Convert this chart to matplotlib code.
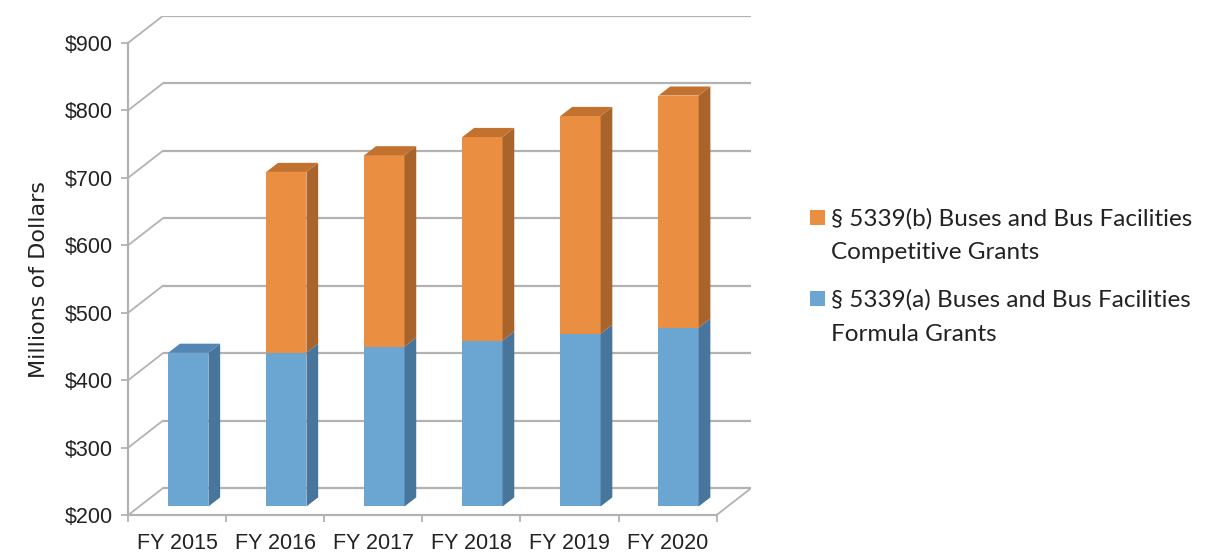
import matplotlib.pyplot as plt
from matplotlib.patches import Polygon, Rectangle

years = ['FY 2015', 'FY 2016', 'FY 2017', 'FY 2018', 'FY 2019', 'FY 2020']
formula = [427.8, 427.8, 436.9, 445.9, 455.9, 465.0]       # 5339(a), millions
competitive = [0.0, 268.0, 283.6, 301.7, 322.8, 344.0]     # 5339(b), millions
yticks = [200, 300, 400, 500, 600, 700, 800, 900]
ytick_labels = ['$%d' % v for v in yticks]
legend_lines = [['§ 5339(b) Buses and Bus Facilities', 'Competitive Grants'],
                ['§ 5339(a) Buses and Bus Facilities', 'Formula Grants']]

# fake 3d: one unit of depth shifts by KX categories and KY dollars
KX, KY = 0.351, 39.6
Z0, ZD = 0.32, 0.34     # bar front depth, bar thickness
BW = 0.41

blue = ('#6ba5d2', '#48759b', '#5386b3')
orange = ('#ea8e42', '#a8642b', '#c2712f')
grid_c = '#b2b2b2'
text_c = '#222222'

W, H = 1225, 552
fig = plt.figure(figsize=(W / 100, H / 100), dpi=100)

def px(x, y):
    return x / W, 1 - y / H

left, top = px(128.3, 16)
right, bottom = px(751, 515)
ax = fig.add_axes([left, bottom, right - left, top - bottom])
n = len(years)
ymin, ymax = yticks[0], yticks[-1]
ax.set_xlim(-0.5, n - 0.5 + KX)
ax.set_ylim(ymin, ymax + KY)
ax.patch.set_visible(False)

# back wall gridlines and the diagonals on the left wall
for v in yticks:
    ax.plot([-0.5 + KX, n - 0.5 + KX], [v + KY, v + KY], color=grid_c, lw=1.6, zorder=1, solid_capstyle='butt')
    ax.plot([-0.5, -0.5 + KX], [v, v + KY], color=grid_c, lw=1.3, zorder=1)
# right edge of the floor
ax.plot([n - 0.5, n - 0.5 + KX], [ymin, ymin + KY], color=grid_c, lw=1.3, zorder=1)

for s in ['top', 'right']:
    ax.spines[s].set_visible(False)
for s in ['left', 'bottom']:
    ax.spines[s].set_color(grid_c)
    ax.spines[s].set_linewidth(1.6)
ax.spines['left'].set_bounds(ymin, ymax)
ax.spines['bottom'].set_bounds(-0.5, n - 0.5)

ax.set_yticks(yticks)
ax.set_yticklabels(ytick_labels)
ax.set_xticks([i - 0.5 for i in range(n + 1)])
ax.set_xticklabels([])
ax.set_xticks(range(n), minor=True)
ax.set_xticklabels(years, minor=True)
ax.tick_params(axis='y', length=5, width=1.3, color=grid_c, pad=6, labelsize=15.5, labelcolor=text_c)
ax.tick_params(axis='x', which='major', length=5, width=1.3, color=grid_c)
ax.tick_params(axis='x', which='minor', length=0, pad=13, labelsize=15.5, labelcolor=text_c)
for lab in ax.get_yticklabels() + ax.get_xticklabels(minor=True):
    lab.set_family(['Liberation Sans', 'DejaVu Sans'])

# stacked bars with side and top faces
for i in range(n):
    total = formula[i] + competitive[i]
    segs = [(ymin, formula[i], blue), (formula[i], total, orange)]
    x0 = i - BW / 2 + KX * Z0
    xr = x0 + BW
    for lo, hi, cols in segs:
        if hi <= lo:
            continue
        ax.bar(x0, hi - lo, width=BW, bottom=lo + KY * Z0, align='edge',
               color=cols[0], linewidth=0, zorder=3)
        side = [(xr, lo + KY * Z0), (xr + KX * ZD, lo + KY * (Z0 + ZD)),
                (xr + KX * ZD, hi + KY * (Z0 + ZD)), (xr, hi + KY * Z0)]
        ax.add_patch(Polygon(side, closed=True, facecolor=cols[1], linewidth=0, zorder=3))
        if hi == total:
            lid = [(x0, hi + KY * Z0), (xr, hi + KY * Z0),
                   (xr + KX * ZD, hi + KY * (Z0 + ZD)), (x0 + KX * ZD, hi + KY * (Z0 + ZD))]
            ax.add_patch(Polygon(lid, closed=True, facecolor=cols[2], linewidth=0, zorder=3))

# y label
fig.text(*px(39, 279), 'Millions of Dollars', rotation=90, ha='center', va='center',
         fontsize=16, color=text_c, family=['DejaVu Sans'])

# legend, drawn by hand so the swatch sits on the first line
leg_font = ['Lato', 'DejaVu Sans']
baselines = [(226, 259), (307, 341)]
for cols, lines, (b1, b2) in zip([orange, blue], legend_lines, baselines):
    sx, sy = px(810, b1 - 1)
    fig.patches.append(Rectangle((sx, sy), 15 / W, 15 / H, transform=fig.transFigure,
                                 facecolor=cols[0], edgecolor='none'))
    fig.text(*px(831, b1), lines[0], ha='left', va='baseline', fontsize=17.5, color=text_c, family=leg_font)
    fig.text(*px(831, b2), lines[1], ha='left', va='baseline', fontsize=17.5, color=text_c, family=leg_font)

fig.savefig('out.png', dpi=100, facecolor='white')
